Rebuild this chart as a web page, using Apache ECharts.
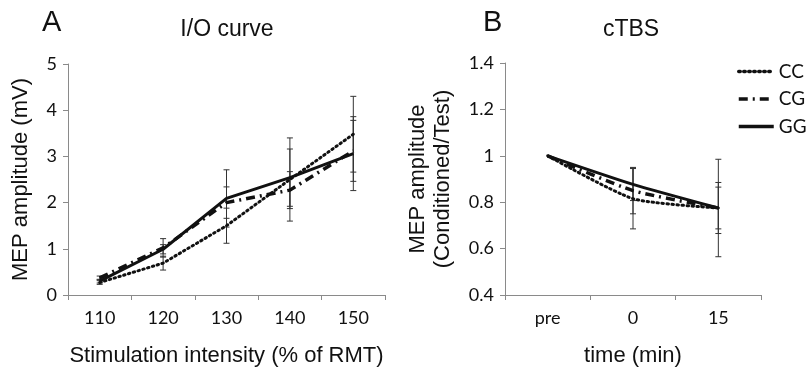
<!DOCTYPE html>
<html>
<head>
<meta charset="utf-8">
<script src="https://cdn.jsdelivr.net/npm/echarts@6/dist/echarts.min.js"></script>
<style>html,body{margin:0;padding:0;background:#fff;}#c{width:807px;height:372px;}</style>
</head>
<body>
<div id="c"></div>
<script>
// Panel A: I/O curve
var ioCategories = ['110', '120', '130', '140', '150'];
var ioCC = [0.27, 0.69, 1.50, 2.50, 3.48];
var ioCG = [0.37, 1.02, 2.00, 2.27, 3.12];
var ioGG = [0.30, 0.99, 2.09, 2.54, 3.06];
var ioCCErr = [0.04, 0.15, 0.38, 0.90, 0.82];
var ioCGErr = [0.04, 0.20, 0.34, 0.40, 0.66];
var ioGGErr = [0.04, 0.10, 0.62, 0.62, 0.80];
var ioYTicks = [0, 5, 1];

// Panel B: cTBS
var tbsCategories = ['pre', '0', '15'];
var tbsCC = [1.0, 0.815, 0.775];
var tbsCG = [1.0, 0.850, 0.775];
var tbsGG = [1.0, 0.877, 0.775];
var tbsCCErr = [0, 0.13, 0.21];
var tbsCGErr = [0, 0.10, 0.09];
var tbsGGErr = [0, 0.07, 0.11];
var tbsYTicks = [0.4, 1.4, 0.2];

var seriesNames = ['CC', 'CG', 'GG'];

var chart = echarts.init(document.getElementById('c'));

var axisColor = '#8a8a8a';
var tickFont = 'Lato, "Open Sans", sans-serif';
var nameFont = '"Liberation Sans", Arial, sans-serif';

function errData(vals, errs) {
  return vals.map(function (v, i) { return [i, v - errs[i], v + errs[i]]; });
}
function errSeries(vals, errs, xi, yi) {
  return {
    type: 'custom',
    xAxisIndex: xi, yAxisIndex: yi,
    z: 1,
    silent: true,
    data: errData(vals, errs),
    renderItem: function (params, api) {
      var x = api.value(0);
      if (api.value(2) - api.value(1) <= 0) return null;
      var lo = api.coord([x, api.value(1)]);
      var hi = api.coord([x, api.value(2)]);
      var w = 3;
      var st = { stroke: '#333', lineWidth: 1 };
      return {
        type: 'group',
        children: [
          { type: 'line', shape: { x1: lo[0], y1: lo[1], x2: hi[0], y2: hi[1] }, style: st },
          { type: 'line', shape: { x1: lo[0] - w, y1: lo[1], x2: lo[0] + w, y2: lo[1] }, style: st },
          { type: 'line', shape: { x1: hi[0] - w, y1: hi[1], x2: hi[0] + w, y2: hi[1] }, style: st }
        ]
      };
    }
  };
}

var styles = {
  CC: { color: '#111', width: 3, type: [1.5, 3.5], cap: 'round' },
  CG: { color: '#111', width: 3.5, type: [9, 5, 2, 5], cap: 'butt' },
  GG: { color: '#111', width: 3, type: 'solid', cap: 'butt' }
};

function lineSeries(name, data, xi, yi, smooth) {
  var s = styles[name];
  return {
    name: name,
    type: 'line',
    xAxisIndex: xi, yAxisIndex: yi,
    data: data,
    symbol: 'none',
    smooth: smooth,
    z: name === 'GG' ? 4 : 3,
    lineStyle: { color: s.color, width: s.width, type: s.type, cap: s.cap },
    itemStyle: { color: s.color }
  };
}

function catAxis(cats, gi, name) {
  return {
    type: 'category', gridIndex: gi, data: cats, boundaryGap: true,
    axisLine: { lineStyle: { color: axisColor, width: 1 } },
    axisTick: { show: true, length: 5, lineStyle: { color: axisColor } },
    axisLabel: { color: '#111', fontFamily: tickFont, fontSize: 18, margin: 14 },
    name: name, nameLocation: 'middle', nameGap: 50,
    nameTextStyle: { color: '#111', fontFamily: nameFont, fontSize: 22 }
  };
}
function valAxis(t, gi, name, gap, lh) {
  return {
    type: 'value', gridIndex: gi, min: t[0], max: t[1], interval: t[2],
    axisLine: { show: true, lineStyle: { color: axisColor, width: 1 } },
    axisTick: { show: true, length: 5, lineStyle: { color: axisColor } },
    splitLine: { show: false },
    axisLabel: { color: '#111', fontFamily: tickFont, fontSize: 18, margin: 11 },
    name: name, nameLocation: 'middle', nameGap: gap, nameRotate: 90,
    nameTextStyle: { color: '#111', fontFamily: nameFont, fontSize: 22, lineHeight: lh }
  };
}

var option = {
  animation: false,
  backgroundColor: '#fff',
  grid: [
    { left: 68, top: 64, width: 317, height: 234 },
    { left: 505, top: 63, width: 256, height: 235 }
  ],
  xAxis: [
    catAxis(ioCategories, 0, 'Stimulation intensity (% of RMT)'),
    catAxis(tbsCategories, 1, 'time (min)')
  ],
  yAxis: [
    valAxis(ioYTicks, 0, 'MEP amplitude (mV)', 35, 24),
    valAxis(tbsYTicks, 1, 'MEP amplitude\n(Conditioned/Test)', 50, 25)
  ],
  legend: {
    data: seriesNames,
    orient: 'vertical',
    left: 732, top: 57,
    itemWidth: 35, itemHeight: 14, itemGap: 8.5,
    itemStyle: { opacity: 0 },
    lineStyle: { width: 3.5 },
    textStyle: { color: '#111', fontFamily: tickFont, fontSize: 19 },
    selectedMode: false
  },
  graphic: [
    { type: 'text', x: 42, y: 8, style: { text: 'A', fontFamily: nameFont, fontSize: 29, fill: '#111' } },
    { type: 'text', x: 227, y: 30, style: { text: 'I/O curve', fontFamily: nameFont, fontSize: 23, fill: '#111', textAlign: 'center', textVerticalAlign: 'middle' } },
    { type: 'text', x: 483, y: 8, style: { text: 'B', fontFamily: nameFont, fontSize: 29, fill: '#111' } },
    { type: 'text', x: 631, y: 30, style: { text: 'cTBS', fontFamily: nameFont, fontSize: 23, fill: '#111', textAlign: 'center', textVerticalAlign: 'middle' } }
  ],
  series: [
    errSeries(ioCC, ioCCErr, 0, 0),
    errSeries(ioCG, ioCGErr, 0, 0),
    errSeries(ioGG, ioGGErr, 0, 0),
    lineSeries('CC', ioCC, 0, 0, false),
    lineSeries('CG', ioCG, 0, 0, false),
    lineSeries('GG', ioGG, 0, 0, false),
    errSeries(tbsCC, tbsCCErr, 1, 1),
    errSeries(tbsCG, tbsCGErr, 1, 1),
    errSeries(tbsGG, tbsGGErr, 1, 1),
    lineSeries('CC', tbsCC, 1, 1, 0.2),
    lineSeries('CG', tbsCG, 1, 1, 0.2),
    lineSeries('GG', tbsGG, 1, 1, 0.2)
  ]
};
chart.setOption(option);
</script>
</body>
</html>
